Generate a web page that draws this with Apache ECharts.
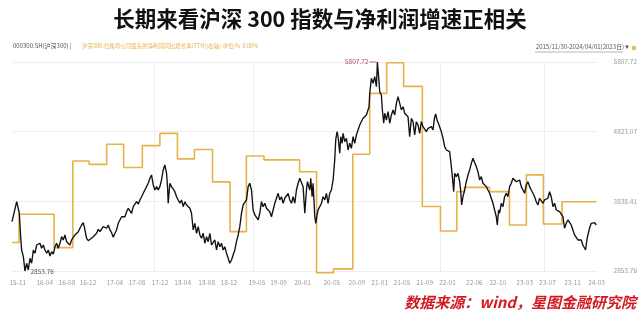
<!DOCTYPE html>
<html><head><meta charset="utf-8">
<script src="https://cdn.jsdelivr.net/npm/echarts@6/dist/echarts.min.js"></script>
<style>html,body{margin:0;padding:0;background:#fff}#c{width:640px;height:319px}</style>
</head><body><div id="c"></div>
<script>
// x unit: months since 2015-11-30
const tickMonths = [1.0,5.6,9.4,13.0,17.6,21.4,25.3,29.2,33.3,37.1,41.9,45.6,49.7,54.7,59.0,62.9,66.7,70.6,74.5,79.1,83.1,87.7,91.6,95.9,100];
const tickLabels = ['15-11','16-04','16-08','16-12','17-04','17-08','17-12','18-04','18-08','18-12','19-05','19-09','20-01','20-05','20-09','21-01','21-05','21-09','22-01','22-06','22-10','23-03','23-07','23-11','24-03'];
const yTickValues = [2853.76, 3838.41, 4823.07, 5807.72];
const gridMonths = [24.4, 41.2, 73.3, 91.1];

// net profit growth (%), step series (value holds from the given month)
const profitMonth  = [0, 1.2, 7.2, 10.4, 13.2, 16.2, 19.1, 22.3, 25.3, 28.3, 31.2, 34.3, 37.3, 40.1, 43.1, 49.2, 52.1, 55.0, 58.3, 61.2, 64.1, 67.0, 70.2, 73.3, 76.1, 77.4, 81.7, 85.1, 88.0, 90.9, 94.1, 100];
const profitGrowth = [-21.8, -13.7, -23.3, 1.6, 0.6, 6.4, -0.3, 6.0, 9.5, 2.2, 4.9, -4.4, -18.7, 3.0, 1.9, -1.5, -30.5, -29.4, 3.5, 21.0, 29.8, 23.0, -11.5, -18.5, -7.2, -6.0, -7.2, -16.8, -2.4, -16.5, -10.1, -10.1];

// CSI 300 close: [month, value]
const csi300 = [
[0.00,3551],[0.80,3833],[0.91,3848],[1.25,3670],[1.48,3339],[1.65,3151],[1.94,3056],[2.22,2853.76],[2.51,2963],[2.79,2868],
[3.08,3034],[3.36,2963],[3.65,3151],[3.93,3104],[4.22,3221],[4.50,3197],[4.79,3246],[5.07,3175],[5.36,3221],[5.64,3151],
[5.93,3104],[6.21,3151],[6.50,3066],[6.78,3127],[7.07,3094],[7.35,3197],[7.64,3246],[7.92,3175],[8.21,3246],[8.49,3339],
[8.77,3292],[9.06,3363],[9.34,3268],[9.91,3221],[10.20,3292],[10.48,3316],[10.77,3363],[11.34,3409],[11.62,3458],[11.91,3504],
[12.19,3537],[12.48,3434],[12.76,3316],[13.05,3282],[13.33,3302],[13.90,3339],[14.47,3387],[14.76,3443],[15.04,3409],[15.33,3434],
[15.61,3480],[16.18,3458],[16.47,3504],[16.75,3434],[17.04,3395],[17.32,3330],[17.61,3387],[17.89,3434],[18.18,3528],[18.46,3551],
[18.75,3621],[19.03,3646],[19.32,3621],[19.60,3692],[19.89,3740],[20.17,3726],[20.46,3670],[20.74,3763],[21.03,3787],[21.31,3833],
[21.60,3801],[21.88,3858],[22.17,3904],[22.45,3952],[22.74,3975],[23.02,4046],[23.30,4094],[23.59,4164],[23.87,4211],[24.16,4070],
[24.44,3999],[24.73,4046],[25.01,3999],[25.30,4046],[25.58,4140],[25.87,4282],[26.15,4352],[26.44,4235],[26.61,4046],[26.72,3811],
[27.01,4094],[27.29,4046],[27.58,4070],[27.86,3975],[28.15,3904],[28.43,3882],[28.72,3811],[29.00,3858],[29.29,3763],[29.57,3833],
[29.86,3787],[30.14,3811],[30.43,3740],[30.71,3670],[31.00,3434],[31.28,3528],[31.57,3387],[31.85,3480],[32.14,3363],[32.42,3316],
[32.71,3387],[32.99,3246],[33.28,3339],[33.56,3268],[33.85,3387],[34.13,3221],[34.42,3246],[34.70,3292],[34.99,3151],[35.27,3268],
[35.56,3197],[35.84,3246],[36.13,3151],[36.41,3197],[36.70,3104],[36.98,3034],[37.26,2963],[37.55,3009],[37.83,3080],[38.12,3151],
[38.40,3268],[38.69,3363],[38.97,3480],[39.26,3670],[39.54,3787],[39.83,3763],[40.11,3858],[40.40,4046],[40.68,4094],[40.97,3999],
[41.25,3716],[41.54,3646],[41.82,3621],[42.11,3575],[42.39,3670],[42.68,3833],[42.96,3763],[43.25,3811],[43.53,3740],[43.82,3763],
[44.10,3692],[44.39,3621],[44.67,3716],[44.96,3811],[45.24,3833],[45.53,3952],[45.81,3858],[46.10,3904],[46.38,3811],[46.67,3882],
[46.95,3904],[47.24,3952],[47.52,3858],[47.81,3811],[48.09,3904],[48.38,3811],[48.66,3999],[48.95,4094],[49.23,4164],[49.52,4140],
[49.80,4046],[50.09,3670],[50.37,3999],[50.54,4116],[50.71,4094],[50.94,3999],[51.11,4164],[51.34,3904],[51.51,4094],[51.80,3621],
[51.97,3528],[52.19,3646],[52.36,3716],[52.65,3763],[52.94,3811],[53.22,3904],[53.51,3858],[53.79,3952],[54.07,3811],[54.36,3952],
[54.64,3999],[54.93,4140],[55.21,4423],[55.38,4706],[55.61,4823],[55.78,4752],[56.07,4518],[56.24,4752],[56.47,4659],[56.64,4800],
[56.92,4682],[57.21,4730],[57.49,4564],[57.78,4659],[58.06,4588],[58.35,4752],[58.63,4659],[58.92,4776],[59.20,4847],[59.49,4918],
[59.77,4894],[60.06,5012],[60.34,5035],[60.63,5059],[60.91,5083],[61.08,5176],[61.20,5366],[61.48,5578],[61.77,5507],[62.05,5600],
[62.34,5459],[62.51,5807.72],[62.74,5578],[62.91,5388],[63.19,5342],[63.36,5130],[63.59,4942],[63.76,5083],[64.05,4988],[64.33,5106],
[64.62,4942],[64.90,5059],[65.19,5130],[65.47,5059],[65.76,5224],[66.04,5318],[66.33,5224],[66.61,5130],[66.90,5176],[67.18,5083],
[67.46,5106],[67.75,5035],[68.03,4752],[68.32,5012],[68.60,4964],[68.89,4776],[69.17,4964],[69.46,4918],[69.74,4800],[70.03,4964],
[70.31,4894],[70.60,4918],[70.88,4823],[71.17,4871],[71.45,4847],[71.74,4894],[72.02,4847],[72.31,5035],[72.48,5073],[72.71,4988],
[73.05,4918],[73.45,4823],[73.73,4730],[74.02,4611],[74.30,4564],[74.59,4588],[74.87,4540],[75.16,4328],[75.33,4187],[75.56,3975],
[75.73,4235],[76.01,4187],[76.30,4235],[76.58,4116],[76.75,3999],[76.92,3787],[77.15,3904],[77.44,3999],[77.72,4116],[78.01,4211],
[78.29,4282],[78.58,4376],[78.86,4447],[79.14,4423],[79.43,4328],[79.71,4258],[80.00,4140],[80.28,4187],[80.57,4094],[80.85,4116],
[81.14,4046],[81.42,3999],[81.71,3952],[81.99,3882],[82.28,3811],[82.56,3716],[82.85,3621],[83.02,3504],[83.24,3716],[83.42,3670],
[83.70,3811],[83.99,3763],[84.27,3904],[84.56,3952],[84.84,3904],[85.13,4046],[85.41,4094],[85.70,4164],[85.98,4140],[86.27,4116],
[86.55,4094],[86.84,4140],[87.12,4046],[87.41,3999],[87.69,3952],[87.98,4070],[88.26,4116],[88.55,4046],[88.83,3999],[89.12,3952],
[89.40,3904],[89.69,3833],[89.97,3787],[90.26,3882],[90.54,3904],[90.83,3811],[91.11,3858],[91.40,3833],[91.68,3882],[91.97,3975],
[92.25,3904],[92.54,3763],[92.82,3811],[93.11,3716],[93.39,3740],[93.68,3692],[93.96,3670],[94.25,3621],[94.53,3458],[94.82,3528],
[95.10,3575],[95.39,3551],[95.67,3504],[95.96,3434],[96.24,3363],[96.53,3339],[96.81,3292],[97.10,3268],[97.38,3292],[97.66,3221],
[97.95,3197],[98.12,3151],[98.35,3292],[98.52,3363],[98.80,3458],[99.09,3528],[99.37,3551],[99.66,3537],[99.94,3504]
];

const profitData = profitMonth.map((m, i) => [m, profitGrowth[i]]);
const labelMap = {};
tickMonths.forEach((m, i) => { labelMap[m] = tickLabels[i]; });

const chart = echarts.init(document.getElementById('c'), null, {renderer: 'canvas'});
chart.setOption({
  backgroundColor: '#ffffff',
  animation: false,
  textStyle: {fontFamily: '"Noto Sans CJK SC", "Noto Sans", sans-serif'},
  title: {
    text: '长期来看沪深 300 指数与净利润增速正相关',
    left: 'center', top: 3,
    textStyle: {fontSize: 21.5, fontWeight: 'bold', color: '#111', fontFamily: '"Noto Sans CJK SC", sans-serif'}
  },
  grid: {left: 12, right: 43, top: 62, bottom: 48},
  xAxis: [{
    type: 'value', min: 0, max: 100,
    axisLine: {show: false}, axisTick: {show: false, customValues: tickMonths},
    splitLine: {show: false},
    axisLabel: {customValues: tickMonths, fontSize: 6.5, color: '#9a9a9a', margin: 8,
      formatter: v => labelMap[v] !== undefined ? labelMap[v] : ''}
  }, {
    type: 'value', min: 0, max: 100, position: 'top',
    axisLine: {show: false}, axisLabel: {show: false},
    axisTick: {show: false, customValues: gridMonths},
    splitLine: {show: true, lineStyle: {color: '#f0f0f0', width: 1}}
  }],
  yAxis: [{
    type: 'value', position: 'right', min: 2853.76, max: 5807.72,
    axisLine: {show: false},
    axisTick: {show: false, customValues: yTickValues},
    axisLabel: {customValues: yTickValues, fontSize: 6.5, color: '#9a9a9a', margin: 17,
      formatter: v => v.toFixed(2)},
    splitLine: {show: true, lineStyle: {color: '#eeeeee', width: 1}}
  }, {
    type: 'value', min: -30, max: 30, show: false, splitLine: {show: false}
  }],
  series: [{
    name: '归母净利润同比增长率',
    type: 'line', xAxisIndex: 0, yAxisIndex: 1,
    data: profitData, step: 'end', symbol: 'none', clip: false,
    lineStyle: {color: '#e6b24a', width: 1.6},
    z: 2
  }, {
    name: '000300.SH(沪深300)',
    type: 'line', xAxisIndex: 0, yAxisIndex: 0,
    data: csi300, symbol: 'none',
    lineStyle: {color: '#111111', width: 1.35},
    z: 3,
    markPoint: {
      data: [
        {type: 'max', symbol: 'rect', symbolSize: [7, 0.8], symbolOffset: [-4.5, 0],
          itemStyle: {color: '#b5495b'},
          label: {show: true, position: 'left', distance: 1, color: '#b5495b', fontSize: 6.5,
            formatter: p => p.value.toFixed(2)}},
        {type: 'min', symbol: 'circle', symbolSize: 1,
          itemStyle: {color: 'rgba(0,0,0,0)'},
          label: {show: true, position: 'right', distance: 5, offset: [0, 1], color: '#555', fontSize: 6.5,
            formatter: p => p.value.toFixed(2)}}
      ]
    }
  }],
  graphic: [
    {type: 'text', left: 13, top: 43, style: {text: '000300.SH(沪深300) |', fontSize: 6, fill: '#555', fontFamily: '"Noto Sans CJK SC", sans-serif'}},
    {type: 'text', left: 82, top: 43, style: {text: '沪深300:归属母公司股东的净利润同比增长率(TTM)(右轴) 单位:%  0.00%', fontSize: 5.5, fill: '#e6b24a', fontFamily: '"Noto Sans CJK SC", sans-serif'}},
    {type: 'text', right: 16, top: 44, style: {text: '2015/11/30-2024/04/01(2023日)', fontSize: 6, fill: '#555', fontFamily: '"Noto Sans CJK SC", sans-serif'}},
    {type: 'line', shape: {x1: 535, y1: 52, x2: 623, y2: 52}, style: {stroke: '#888', lineWidth: 0.6}},
    {type: 'text', left: 624, top: 44, style: {text: '▼', fontSize: 6, fill: '#555'}},
    {type: 'rect', shape: {x: 632, y: 46, width: 4, height: 4}, style: {fill: '#e6c24a'}},
    {type: 'text', right: 4, top: 295, style: {text: '数据来源：wind，星图金融研究院', fontSize: 15, fontStyle: 'italic', fontWeight: 'bold', fill: '#d21a22', fontFamily: '"Noto Sans CJK SC", sans-serif'}}
  ]
});
</script></body></html>
